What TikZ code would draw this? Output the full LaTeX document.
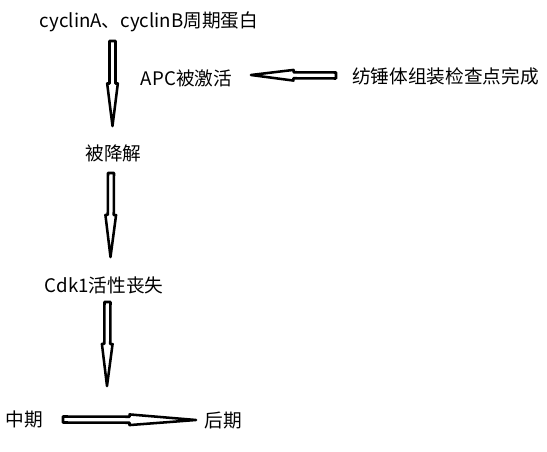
\documentclass[tikz,border=0pt]{standalone}
\usepackage{fontspec}
\setmainfont{Noto Sans CJK SC}
\usetikzlibrary{calc}

\begin{document}
\begin{tikzpicture}[x=0.75pt,y=-0.75pt,
  txt/.style={inner sep=0pt, anchor=center, font=\fontsize{14pt}{17pt}\selectfont},
  fatarrow/.style={draw=black, line width=1.9pt, line join=round,
    to path={let \p1=(\tikztostart), \p2=(\tikztotarget),
      \n1={veclen(\x2-\x1,\y2-\y1)}, \n2={(\x2-\x1)/\n1}, \n3={(\y2-\y1)/\n1},
      \n4={\n1/2} in
      ({\x1-2.25*\n3},{\y1+2.25*\n2})
      -- ({\x1+\n4*\n2-2.25*\n3},{\y1+\n4*\n3+2.25*\n2})
      -- ({\x1+\n4*\n2-4*\n3},{\y1+\n4*\n3+4*\n2})
      -- (\p2)
      -- ({\x1+\n4*\n2+4*\n3},{\y1+\n4*\n3-4*\n2})
      -- ({\x1+\n4*\n2+2.25*\n3},{\y1+\n4*\n3-2.25*\n2})
      -- ({\x1+2.25*\n3},{\y1-2.25*\n2}) -- cycle}}]
\useasboundingbox (0,0) rectangle (547,452);

% Text Node
\node[txt] (cyclin) at (149,22) {cyclinA、cyclinB周期蛋白};
% Text Node
\node[txt] (apc) at (186.5,78) {APC被激活};
% Text Node
\node[txt] (sac) at (445.5,76) {纺锤体组装检查点完成};
% Text Node
\node[txt] (degrade) at (113.5,153) {被降解};
% Text Node
\node[txt] (cdk) at (104,285) {Cdk1活性丧失};
% Text Node
\node[txt] (meta) at (24.5,419) {中期};
% Text Node
\node[txt] (ana) at (223.5,421) {后期};

% arrow ends
\coordinate (cyclin-out) at (112.5,41);
\coordinate (degrade-in) at (112.5,126);
\coordinate (degrade-out) at (111,173);
\coordinate (cdk-in) at (110.5,257);
\coordinate (cdk-out) at (107.5,302);
\coordinate (phase-in) at (107,386);
\coordinate (sac-out) at (336,75.5);
\coordinate (apc-in) at (251,75);
\coordinate (meta-out) at (63,419.5);
\coordinate (ana-in) at (196,420);

%Block Arrows
\draw[fatarrow] (cyclin-out) to (degrade-in);
\draw[fatarrow] (degrade-out) to (cdk-in);
\draw[fatarrow] (cdk-out) to (phase-in);
\draw[fatarrow] (sac-out) to (apc-in);
\draw[fatarrow] (meta-out) to (ana-in);

\end{tikzpicture}
\end{document}
